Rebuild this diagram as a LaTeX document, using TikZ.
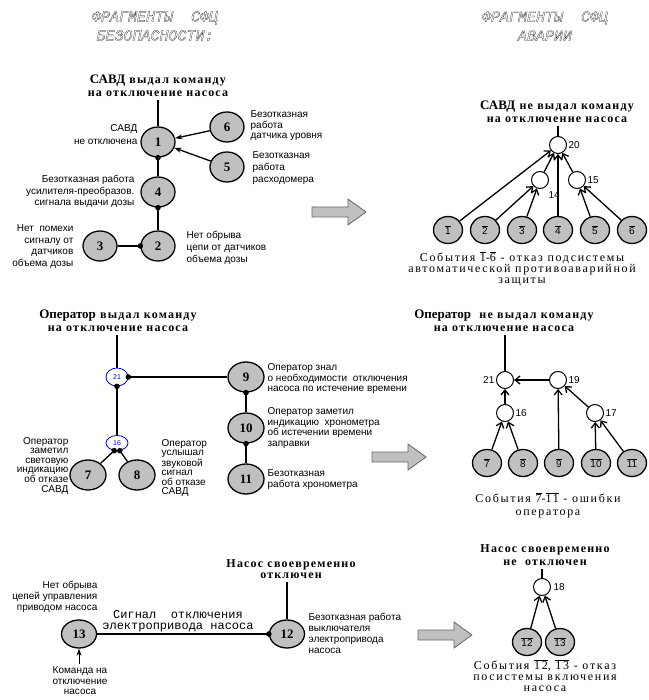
\documentclass[tikz,border=0pt]{standalone}
\usepackage{fontspec}
\setmainfont{Liberation Serif}
\newfontfamily\lblfont{Liberation Sans}
\newfontfamily\hdfamily[LetterSpace=10]{Liberation Serif}
\newfontfamily\hdnfamily{Liberation Serif}
\newfontfamily\capfamily[LetterSpace=14]{Liberation Serif}
\newfontfamily\ttlfamily{Liberation Mono}
\usetikzlibrary{shapes.geometric, arrows.meta}

\definecolor{nodegrey}{HTML}{C0C0C0}
\definecolor{gateblue}{HTML}{0000CC}

% bar over event numbers
\newcommand{\ov}[1]{$\overline{\mbox{#1}}$}
% first word of a heading, set without tracking
\newcommand{\hdword}[1]{{\hdnfamily\bfseries\fontsize{13}{13}\selectfont #1}}
% stroked (hollow) letters
\newcommand{\hollow}[1]{\special{pdf:literal direct 1 Tr 0.2 w}#1\special{pdf:literal direct 0 Tr}}

\begin{document}
\begin{tikzpicture}[x=1pt, y=-1pt, line width=1.3pt,
    >={Stealth[length=7pt,width=5pt]},
    ev/.style={ellipse, draw, fill=nodegrey, minimum width=34pt, minimum height=30pt,
        inner sep=0pt, font=\bfseries\fontsize{13}{13}\selectfont},
    evbar/.style={ellipse, draw, fill=nodegrey, minimum width=29pt, minimum height=27pt,
        inner sep=0pt, font=\lblfont\fontsize{10}{10}\selectfont},
    gate/.style={circle, draw, fill=white, minimum size=17pt, inner sep=0pt, line width=1pt},
    bgate/.style={ellipse, draw=gateblue, fill=white, line width=0.8pt, minimum width=22pt,
        minimum height=18pt, inner sep=0pt, text=gateblue, font=\lblfont\fontsize{7}{7}\selectfont},
    lbl/.style={font=\lblfont\fontsize{10}{#1}\selectfont, inner sep=0pt},
    lbl/.default=11.5,
    head/.style={font=\hdfamily\bfseries\fontsize{12}{#1}\selectfont, align=center, inner sep=3pt},
    head/.default=12.5,
    capt/.style={font=\capfamily\fontsize{12}{#1}\selectfont, align=center, inner sep=0pt},
    capt/.default=11,
    ttl/.style={font=\ttlfamily\itshape\fontsize{15}{19}\selectfont, align=center, inner sep=0pt},
    num/.style={font=\lblfont\fontsize{10}{10}\selectfont, inner sep=0pt},
    barb/.style={-{Straight Barb[length=5pt,width=8pt]}},
    bigarrow/.style={draw=black!60, fill=nodegrey, line width=0.8pt}]

\useasboundingbox (0,0) rectangle (648,700);

% titles
\node[ttl] (ttlsafe) at (155,26) {\hollow{ФРАГМЕНТЫ\ \ СФЦ}\\\hollow{БЕЗОПАСНОСТИ:}};
\node[ttl] (ttlfail) at (545,26) {\hollow{ФРАГМЕНТЫ\ \ СФЦ}\\\hollow{АВАРИИ}};

%% ---------- block 1: SAVD ----------
\node[head] (h1) at (158,86) {\hdword{САВД} выдал команду\\на отключение насоса};
\node[ev] (n1) at (158,142) {1};
\node[ev] (n6) at (227,127) {6};
\node[ev] (n5) at (227,167) {5};
\node[ev] (n4) at (158,192) {4};
\node[ev] (n2) at (158,246) {2};
\node[ev] (n3) at (100,246) {3};

\node[lbl=13, align=right, anchor=north east] (l1) at (138,124) {САВД\\не отключена};
\node[lbl=10.5, align=left, anchor=north west] (l6) at (250,110) {Безотказная\\работа\\датчика уровня};
\node[lbl=12, align=left, anchor=north west] (l5) at (252,151) {Безотказная\\работа\\расходомера};
\node[lbl, align=right, anchor=north east] (l4) at (135,175) {Безотказная работа\\усилителя-преобразов.\\сигнала выдачи дозы};
\node[lbl, align=right, anchor=north east] (l3) at (74,224) {Нет\ \ помехи\\сигналу от\\датчиков\\объема дозы};
\node[lbl=12, align=left, anchor=north west] (l2) at (186,231) {Нет обрыва\\цепи от датчиков\\объема дозы};

\draw (h1.south -| n1) -- (n1);
\draw[->] (n6) -- (n1);
\draw[->] (n5) -- (n1);
\draw (n1) -- (n4);
\draw (n4) -- (n2);
\draw (n3) -- (n2);
\foreach \p in {n1.south, n4.south, n2.west}{
    \fill (\p) circle (2.8pt);
}

% tree of failures
\node[head] (h2) at (557,112) {\hdword{САВД} не выдал команду\\на отключение насоса};
\node[gate] (g20) at (558,145) {};
\node[gate] (g14) at (540,180) {};
\node[gate] (g15) at (577,180) {};
\foreach \i/\x in {1/448, 2/485, 3/522, 4/558, 5/595, 6/632}{
    \node[evbar] (e\i) at (\x,230) {\ov{\i}};
}
\node[num, anchor=west] (t20) at (568,145) {20};
\node[num, anchor=west] (t14) at (548,195) {14};
\node[num, anchor=west] (t15) at (587,180) {15};

\draw (h2.south -| g20) -- (g20);
\draw[barb] (e1) -- (g20);
\draw[barb] (e4) -- (g20);
\draw[barb] (g14) -- (g20);
\draw[barb] (g15) -- (g20);
\draw[barb] (e2) -- (g14);
\draw[barb] (e3) -- (g14);
\draw[barb] (e5) -- (g15);
\draw[barb] (e6) -- (g15);

\node[capt] (c1) at (522,269) {События \ov{1}-\ov{6} - отказ подсистемы\\автоматической противоаварийной\\защиты};

%% ---------- block 2: operator ----------
\node[head] (h3) at (118,321) {\hdword{Оператор} выдал команду\\на отключение насоса};
\node[bgate] (a21) at (117,377) {21};
\node[bgate, minimum height=15pt] (a16) at (117,443) {16};
\node[ev, minimum width=36pt] (n9) at (246,377) {9};
\node[ev, minimum width=36pt] (n10) at (246,428) {10};
\node[ev, minimum width=36pt] (n11) at (246,479) {11};
\node[ev, minimum width=36pt] (n7) at (88,475) {7};
\node[ev, minimum width=36pt] (n8) at (137,475) {8};

\node[lbl=9.3, align=right, anchor=north east] (l7) at (69,437) {Оператор\\заметил\\световую\\индикацию\\об отказе\\САВД};
\node[lbl=9.3, align=left, anchor=north west] (l8) at (161,439) {Оператор\\услышал\\звуковой\\сигнал\\об отказе\\САВД};
\node[lbl=10.5, align=left, anchor=north west] (l9) at (267,363) {Оператор знал\\о необходимости\ \ отключения\\насоса по истечение времени};
\node[lbl=10.5, align=left, anchor=north west] (l10) at (267,407) {Оператор заметил\\индикацию\ \ хронометра\\об истечении времени\\заправки};
\node[lbl=10.5, align=left, anchor=north west] (l11) at (267,469) {Безотказная\\работа хронометра};

\draw (h3.south -| a21) -- (a21);
\draw (a21) -- (n9);
\draw (a21) -- (a16);
\draw (a16.250) -- (n7);
\draw (a16.290) -- (n8);
\draw (n9) -- (n10);
\draw (n10) -- (n11);
\foreach \p in {a21.east, a21.south, a16.250, a16.290, n9.south, n10.south}{
    \fill (\p) circle (2.8pt);
}

% tree of failures
\node[head] (h4) at (504,321) {\hdword{Оператор}\ \ не выдал команду\\на отключение насоса};
\node[gate] (g21) at (505,380) {};
\node[gate] (g19) at (558,380) {};
\node[gate] (g16) at (505,413) {};
\node[gate] (g17) at (595,413) {};
\foreach \i/\x in {7/487, 8/523, 9/559, 10/596, 11/632}{
    \node[evbar] (e\i) at (\x,463) {\ov{\i}};
}
\node[num, anchor=east] (t21) at (495,380) {21};
\node[num, anchor=west] (t19) at (568,380) {19};
\node[num, anchor=west] (t16) at (515,413) {16};
\node[num, anchor=west] (t17) at (605,413) {17};

\draw (h4.south -| g21) -- (g21);
\draw[barb] (g19) -- (g21);
\draw[barb] (g16) -- (g21);
\draw[barb] (e7) -- (g16);
\draw[barb] (e8) -- (g16);
\draw[barb] (e9) -- (g19);
\draw[barb] (g17) -- (g19);
\draw[barb] (e10) -- (g17);
\draw[barb] (e11) -- (g17);

\node[capt=13] (c2) at (548,505) {События \ov{7}-\ov{11} - ошибки\\оператора};

%% ---------- block 3: pump ----------
\node[head=11] (h5) at (291,569) {Насос своевременно\\отключен};
\node[ev, minimum width=35pt, minimum height=28pt] (n13) at (79,634) {13};
\node[ev, minimum width=35pt, minimum height=28pt] (n12) at (287,634) {12};
\coordinate (cmd) at (79,664);

\node[font=\ttlfamily\fontsize{12}{10.5}\selectfont, align=center, inner sep=0pt] (sig) at (178,621) {Сигнал\ \ отключения\\электропривода насоса};
\node[lbl=11, align=right, anchor=north east] (l13) at (98,581) {Нет обрыва\\цепей управления\\приводом насоса};
\node[lbl=10.5, align=center, anchor=north] (lcmd) at (80,666) {Команда на\\отключение\\насоса};
\node[lbl=11, align=left, anchor=north west] (l12) at (308,613) {Безотказная работа\\выключателя\\электропривода\\насоса};

\draw (h5.south -| n12) -- (n12);
\draw (n13) -- (n12.west);
\draw[->, line width=1pt] (cmd) -- (n13);
\fill (n12.west) circle (2.8pt);

% tree of failures
\node[head=13] (h6) at (545,555) {Насос своевременно\\не\ \ отключен};
\node[gate] (g18) at (542,587) {};
\node[evbar] (e12) at (527,642) {\ov{12}};
\node[evbar] (e13) at (560,642) {\ov{13}};
\node[num, anchor=west] (t18) at (553,587) {18};

\draw (h6.south -| g18) -- (g18);
\draw[barb] (e12) -- (g18);
\draw[barb] (e13) -- (g18);

\node[capt] (c3) at (545,676) {События \ov{12}, \ov{13} - отказ\\посистемы включения\\насоса};

%% transition arrows
\foreach \x/\y in {312/212, 372/457, 418/635}{
    \draw[bigarrow] (\x,\y-5) -- ++(36,0) -- ++(0,-8) -- ++(18,13) -- ++(-18,13)
        -- ++(0,-8) -- ++(-36,0) -- cycle;
}
\end{tikzpicture}
\end{document}
